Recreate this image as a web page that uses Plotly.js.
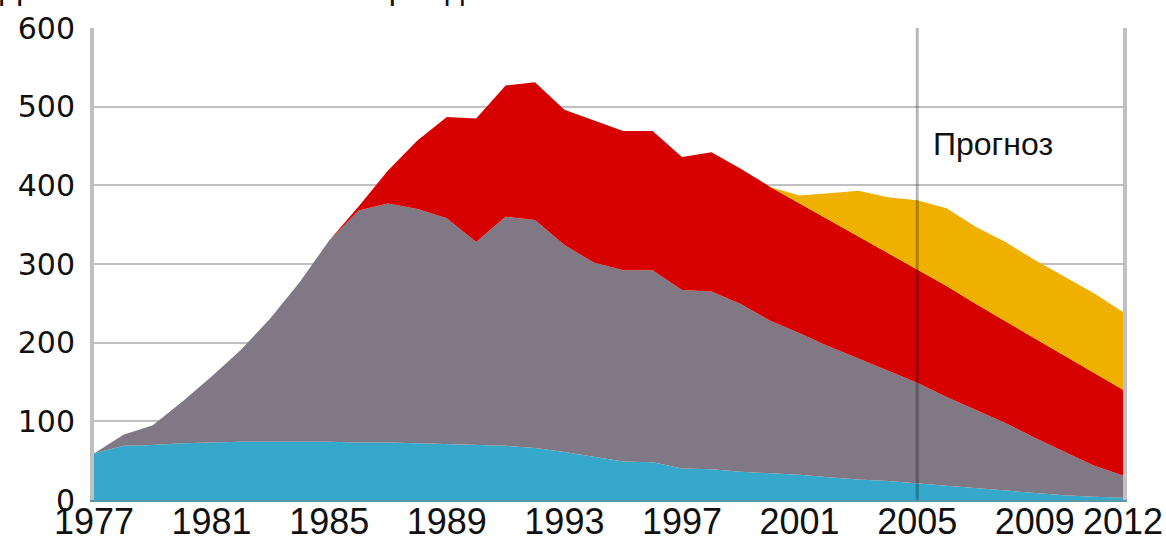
<!DOCTYPE html>
<html>
<head>
<meta charset="utf-8">
<script src="https://cdn.plot.ly/plotly-3.0.1.min.js"></script>
<style>
html,body{margin:0;padding:0;background:#fff;}
#chart{width:1166px;height:540px;}
</style>
</head>
<body>
<div id="chart"></div>
<script>
const years = [1977,1978,1979,1980,1981,1982,1983,1984,1985,1986,1987,1988,1989,1990,1991,1992,1993,1994,1995,1996,1997,1998,1999,2000,2001,2002,2003,2004,2005,2006,2007,2008,2009,2010,2011,2012];
const blueSeries   = [59,69,70,72,73,74,74,74,74,73,73,72,71,70,69,66,61,55,49,48,40,39,36,34,32,29,26,24,21,18,15,12,9,6,4,3];
const greySeries   = [0,14,25,53,84,117,157,203,256,295,304,298,287,258,291,290,263,247,243,244,227,226,213,194,180,166,154,141,128,113,99,86,70,55,40,28];
const redSeries    = [0,0,0,0,0,0,0,0,0,5,42,87,129,157,167,175,172,181,177,177,169,177,172,170,165,162,155,150,144,141,135,129,126,122,117,109];
const yellowSeries = [0,0,0,0,0,0,0,0,0,0,0,0,0,0,0,0,0,0,0,0,0,0,0,0,10,33,58,70,88,99,98,101,100,101,102,99];

const xTickVals = [1977,1981,1985,1989,1993,1997,2001,2005,2009,2012];
const xTickText = ['1977','1981','1985','1989','1993','1997','2001','2005','2009','2012'];
const yTickVals = [0,100,200,300,400,500,600];

const titleText = 'Добыча на базовых месторождениях';
const forecastText = 'Прогноз';
const forecastYear = 2005;

const colors = ['#35a8cc', '#807985', '#d70000', '#f0b000'];
const seriesList = [blueSeries, greySeries, redSeries, yellowSeries];

const traces = seriesList.map((s, i) => ({
  type: 'scatter',
  mode: 'lines',
  x: years,
  y: s,
  stackgroup: 'one',
  line: {width: 0, color: colors[i]},
  fillcolor: colors[i],
  hoverinfo: 'skip',
  showlegend: false
}));

const sans = '"Liberation Sans", Arial, sans-serif';

const layout = {
  width: 1166,
  height: 540,
  margin: {l: 94, r: 43, t: 28, b: 40, pad: 0},
  paper_bgcolor: '#ffffff',
  plot_bgcolor: '#ffffff',
  showlegend: false,
  hovermode: false,
  xaxis: {
    range: [1977, 2012],
    tickmode: 'array',
    tickvals: xTickVals,
    ticktext: xTickText,
    showgrid: false,
    zeroline: false,
    showline: true,
    linecolor: '#5b98a6',
    linewidth: 2,
    ticks: '',
    ticklabelstandoff: -11,
    tickfont: {family: sans, size: 36, color: '#111111'},
    fixedrange: true
  },
  yaxis: {
    range: [0, 600],
    tickmode: 'array',
    tickvals: yTickVals,
    showgrid: true,
    gridcolor: '#c0c0c0',
    gridwidth: 2,
    zeroline: false,
    showline: true,
    mirror: true,
    linecolor: '#c0c0c0',
    linewidth: 4,
    ticks: 'outside',
    ticklen: 9,
    tickcolor: 'rgba(0,0,0,0)',
    tickfont: {family: '"DejaVu Sans", sans-serif', size: 30, color: '#111111'},
    fixedrange: true
  },
  shapes: [{
    type: 'line',
    xref: 'x', yref: 'y',
    x0: forecastYear, x1: forecastYear,
    y0: 0, y1: 600,
    line: {color: 'rgba(0,0,0,0.28)', width: 3},
    layer: 'above'
  }],
  annotations: [
    {
      text: forecastText,
      xref: 'x', yref: 'y',
      x: 2007.58, y: 453,
      xanchor: 'center', yanchor: 'middle',
      showarrow: false,
      font: {family: sans, size: 32, color: '#111111'}
    },
    {
      text: titleText,
      xref: 'paper', yref: 'paper',
      x: -0.093, y: 1.084,
      xanchor: 'left', yanchor: 'middle',
      showarrow: false,
      font: {family: sans, size: 32, color: '#111111'}
    }
  ]
};

Plotly.newPlot('chart', traces, layout, {displayModeBar: false, staticPlot: true});
</script>
</body>
</html>
